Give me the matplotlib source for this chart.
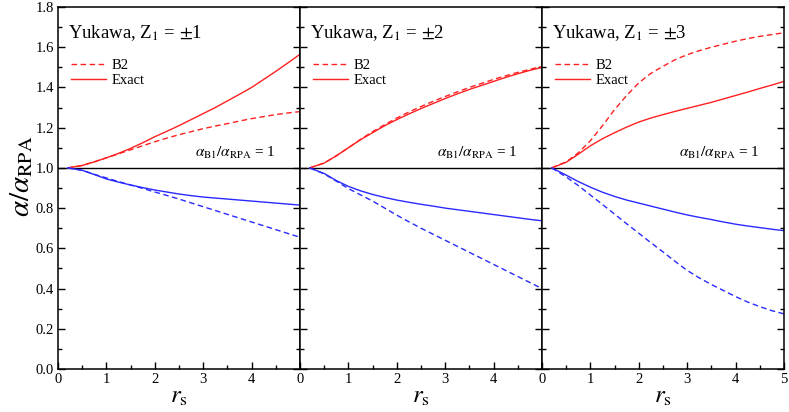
import matplotlib
matplotlib.use("Agg")
import matplotlib.pyplot as plt
from matplotlib.ticker import MultipleLocator

plt.rcParams['font.family'] = 'serif'
plt.rcParams['font.serif'] = ['Liberation Serif', 'DejaVu Serif']
plt.rcParams['mathtext.fontset'] = 'stix'

# r_s grid
rs = [0.2, 0.5, 0.75, 1.0, 1.25, 1.5, 1.75, 2.0, 2.25, 2.5,
      2.75, 3.0, 3.25, 3.5, 3.75, 4.0, 4.25, 4.5, 4.75, 5.0]

# Z1 = +-1
z1_attr_b2 = [1.0, 1.012, 1.03, 1.05, 1.07, 1.09, 1.11, 1.13, 1.148, 1.165,
              1.18, 1.195, 1.208, 1.22, 1.233, 1.245, 1.255, 1.265, 1.273, 1.28]
z1_attr_ex = [1.0, 1.012, 1.03, 1.05, 1.072, 1.097, 1.125, 1.155, 1.182, 1.21,
              1.24, 1.27, 1.30, 1.333, 1.366, 1.40, 1.44, 1.48, 1.522, 1.565]
z1_rep_b2 = [1.0, 0.988, 0.968, 0.95, 0.932, 0.915, 0.898, 0.88, 0.863, 0.845,
             0.826, 0.807, 0.788, 0.769, 0.75, 0.731, 0.712, 0.693, 0.674, 0.655]
z1_rep_ex = [1.0, 0.988, 0.967, 0.945, 0.929, 0.915, 0.902, 0.89, 0.88, 0.87,
             0.862, 0.855, 0.85, 0.845, 0.84, 0.835, 0.83, 0.825, 0.82, 0.815]

# Z1 = +-2
z2_attr_b2 = [1.0, 1.024, 1.06, 1.10, 1.142, 1.18, 1.215, 1.248, 1.278, 1.305,
              1.331, 1.355, 1.378, 1.40, 1.42, 1.44, 1.458, 1.475, 1.49, 1.505]
z2_attr_ex = [1.0, 1.024, 1.06, 1.10, 1.14, 1.175, 1.21, 1.24, 1.268, 1.295,
              1.32, 1.345, 1.368, 1.39, 1.41, 1.43, 1.45, 1.468, 1.485, 1.50]
z2_rep_b2 = [1.0, 0.97, 0.934, 0.897, 0.866, 0.835, 0.80, 0.765, 0.732, 0.70,
             0.67, 0.64, 0.61, 0.58, 0.55, 0.52, 0.49, 0.46, 0.43, 0.40]
z2_rep_ex = [1.0, 0.972, 0.937, 0.908, 0.886, 0.868, 0.853, 0.84, 0.829, 0.819,
             0.81, 0.80, 0.792, 0.784, 0.776, 0.768, 0.76, 0.752, 0.744, 0.737]

# Z1 = +-3
z3_attr_b2 = [1.0, 1.03, 1.075, 1.135, 1.21, 1.29, 1.36, 1.423, 1.47, 1.505,
              1.538, 1.563, 1.583, 1.60, 1.615, 1.63, 1.643, 1.654, 1.663, 1.672]
z3_attr_ex = [1.0, 1.028, 1.068, 1.11, 1.145, 1.175, 1.203, 1.228, 1.248, 1.265,
              1.281, 1.296, 1.311, 1.326, 1.343, 1.36, 1.377, 1.395, 1.412, 1.43]
z3_rep_b2 = [1.0, 0.955, 0.912, 0.865, 0.818, 0.77, 0.722, 0.675, 0.628, 0.582,
             0.535, 0.49, 0.453, 0.42, 0.39, 0.36, 0.333, 0.31, 0.29, 0.274]
z3_rep_ex = [1.0, 0.964, 0.932, 0.904, 0.879, 0.858, 0.84, 0.825, 0.81, 0.795,
             0.78, 0.766, 0.754, 0.743, 0.731, 0.72, 0.711, 0.703, 0.695, 0.688]

panels = [
    ('1', z1_attr_b2, z1_attr_ex, z1_rep_b2, z1_rep_ex),
    ('2', z2_attr_b2, z2_attr_ex, z2_rep_b2, z2_rep_ex),
    ('3', z3_attr_b2, z3_attr_ex, z3_rep_b2, z3_rep_ex),
]

fig = plt.figure(figsize=(7.89, 4.12), dpi=100)
left, bottom = 58 / 789, 1 - 369 / 412
w, h = 242 / 789, 362 / 412

for i, (z, ab2, aex, rb2, rex) in enumerate(panels):
    ax = fig.add_axes([left + i * w, bottom, w, h])
    ax.axhline(1.0, color='black', lw=1.0)
    ax.plot(rs, ab2, color='#ff2020', ls='--', lw=1.0, dashes=(4, 2.5), label='B2')
    ax.plot(rs, aex, color='#ff2020', ls='-', lw=1.0, label='Exact')
    ax.plot(rs, rb2, color='#2a2aff', ls='--', lw=1.0, dashes=(4, 2.5))
    ax.plot(rs, rex, color='#2a2aff', ls='-', lw=1.0)

    ax.set_xlim(0, 5)
    ax.set_ylim(0, 1.8)
    ax.xaxis.set_major_locator(MultipleLocator(1))
    ax.xaxis.set_minor_locator(MultipleLocator(0.5))
    ax.yaxis.set_major_locator(MultipleLocator(0.2))
    ax.yaxis.set_minor_locator(MultipleLocator(0.1))
    ax.tick_params(which='both', direction='in', right=True, top=False,
                   labelsize=10.5, width=1.0, pad=3)
    ax.tick_params(which='major', length=5)
    ax.tick_params(which='minor', length=3)
    for s in ax.spines.values():
        s.set_linewidth(1.1)

    if i < 2:
        ax.set_xticks([0, 1, 2, 3, 4, 5])
        ax.set_xticklabels(['0', '1', '2', '3', '4', ''])
    if i > 0:
        ax.tick_params(axis='y', labelleft=False)
    else:
        ax.set_yticks([0, 0.2, 0.4, 0.6, 0.8, 1.0, 1.2, 1.4, 1.6, 1.8])
        ax.set_yticklabels(['0.0', '0.2', '0.4', '0.6', '0.8', '1.0',
                            '1.2', '1.4', '1.6', '1.8'])

    ax.text(0.04, 0.955, r'Yukawa, Z$_{1}$ = $\pm$' + z, transform=ax.transAxes,
            fontsize=13.5, va='top', ha='left')
    ax.text(0.9, 1.035, r'$\alpha_{\rm B1}/\alpha_{\rm RPA}$ = 1',
            transform=ax.get_yaxis_transform(), fontsize=11,
            ha='right', va='bottom')
    ax.legend(loc='upper left', bbox_to_anchor=(0.01, 0.885), frameon=False,
              fontsize=10.5, handlelength=2.4, handletextpad=0.4,
              labelspacing=0.15, borderpad=0.2)
    ax.set_xlabel(r'$r_{\rm s}$', fontsize=18, labelpad=0)

fig.text(22 / 789, 1 - 176 / 412, r'$\alpha/\alpha_{\rm RPA}$', rotation=90,
         fontsize=21, ha='center', va='center')

fig.savefig('out.png', dpi=100)
